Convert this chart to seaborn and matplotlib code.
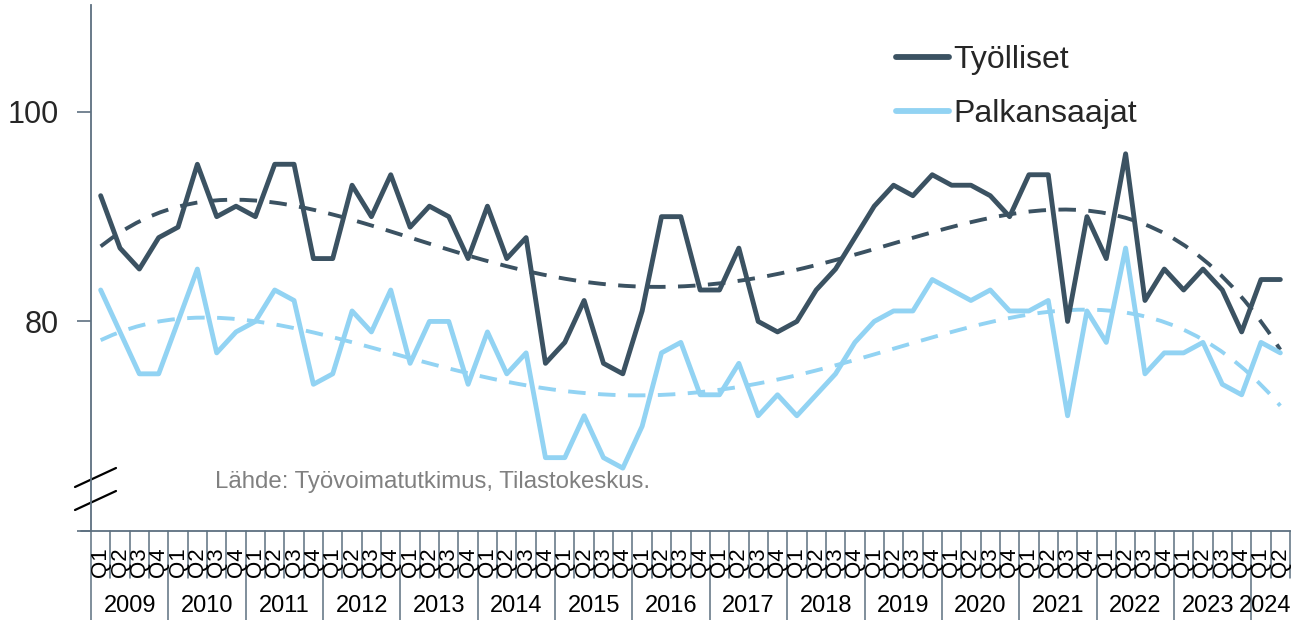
import numpy as np
import pandas as pd
import matplotlib
matplotlib.use("Agg")
import matplotlib.pyplot as plt
import matplotlib.transforms as mtrans
import seaborn as sns

# ---- data ----
years = [str(y) for y in range(2009, 2025)]
quarter_labels = ["Q1", "Q2", "Q3", "Q4"]
n_quarters_last_year = 2

tyolliset = [92, 87, 85, 88, 89, 95, 90, 91, 90, 95, 95, 86, 86, 93, 90, 94,
             89, 91, 90, 86, 91, 86, 88, 76, 78, 82, 76, 75, 81, 90, 90, 83,
             83, 87, 80, 79, 80, 83, 85, 88, 91, 93, 92, 94, 93, 93, 92, 90,
             94, 94, 80, 90, 86, 96, 82, 85, 83, 85, 83, 79, 84, 84]
palkansaajat = [83, 79, 75, 75, 80, 85, 77, 79, 80, 83, 82, 74, 75, 81, 79, 83,
                76, 80, 80, 74, 79, 75, 77, 67, 67, 71, 67, 66, 70, 77, 78, 73,
                73, 76, 71, 73, 71, 73, 75, 78, 80, 81, 81, 84, 83, 82, 83, 81,
                81, 82, 71, 81, 78, 87, 75, 77, 77, 78, 74, 73, 78, 77]
series_names = ["Työlliset", "Palkansaajat"]
y_ticks = [60, 80, 100]
y_ticklabels = ["", "80", "100"]
source_text = "Lähde: Työvoimatutkimus, Tilastokeskus."

# ---- build tidy frame ----
q_year, q_lab = [], []
for yi, y in enumerate(years):
    nq = 4 if yi < len(years) - 1 else n_quarters_last_year
    for q in range(nq):
        q_year.append(y)
        q_lab.append(quarter_labels[q])
n = len(q_lab)
idx = np.arange(n)
df = pd.DataFrame({
    "idx": np.concatenate([idx, idx]),
    "value": tyolliset + palkansaajat,
    "series": [series_names[0]] * n + [series_names[1]] * n,
})

dark = "#3b5262"
light = "#92d3f3"
axis_col = "#5d7080"

sns.set_theme(style="white")
plt.rcParams["font.family"] = ["Liberation Sans", "DejaVu Sans"]

W, H = 1291, 620
fig = plt.figure(figsize=(W / 100, H / 100), dpi=100)
ax = fig.add_axes([91 / W, 1 - 531 / H, (1290 - 91) / W, (531 - 5) / H])

# trend lines
for vals, col in [(tyolliset, dark), (palkansaajat, light)]:
    sns.regplot(x=idx, y=np.array(vals, dtype=float), order=4, ci=None,
                scatter=False, ax=ax, truncate=True,
                line_kws=dict(color=col, lw=2.8, dashes=(4.5, 3.2)))

sns.lineplot(data=df, x="idx", y="value", hue="series",
             palette=[dark, light], lw=3.5, ax=ax, legend=True)

ax.set_xlim(-0.5, n - 0.5)
ax.set_ylim(60, 110.2)
ax.set_yticks(y_ticks)
ax.set_yticklabels(y_ticklabels, fontsize=22)
ax.set_xticks([])
ax.set_xlabel("")
ax.set_ylabel("")
ax.tick_params(axis="y", direction="out", length=10, width=1.2,
               color=axis_col, pad=13, left=True)
for s in ["top", "right"]:
    ax.spines[s].set_visible(False)
for s in ["left", "bottom"]:
    ax.spines[s].set_color(axis_col)
    ax.spines[s].set_linewidth(1.3)

# legend
leg = ax.legend(loc="upper left", bbox_to_anchor=(896 / W, 1 - 45 / H),
                bbox_transform=fig.transFigure, frameon=False, fontsize=23,
                handlelength=1.65, handletextpad=0.15, labelspacing=0.75,
                borderpad=0, borderaxespad=0)
for h in leg.get_lines():
    h.set_linewidth(4.2)

# x-axis category labels (two levels)
bt = mtrans.blended_transform_factory(ax.transData, fig.transFigure)
y_axis_fig = 1 - 531 / H
y_q_bottom = 1 - 578 / H
for i in range(n + 1):
    x = i - 0.5
    is_year_edge = (i % 4 == 0)
    y_end = 0.0 if (is_year_edge and i < n) else y_q_bottom
    ax.plot([x, x], [y_axis_fig, y_end], transform=bt, color=axis_col,
            lw=1.1, clip_on=False)
for i in range(n):
    ax.text(i, 1 - 562 / H, q_lab[i], transform=bt, rotation=90,
            ha="center", va="center", fontsize=16, color="black")
for yi, y in enumerate(years):
    members = [i for i in range(n) if q_year[i] == y]
    if yi == len(years) - 1:
        ax.text(1291 / W, 1 - 606 / H, y, transform=fig.transFigure,
                ha="right", va="center", fontsize=17, color="black")
    else:
        shift = -5 if yi == len(years) - 2 else 0
        ax.annotate(y, xy=(np.mean(members), 1 - 606 / H), xycoords=bt,
                    xytext=(shift, 0), textcoords="offset pixels",
                    ha="center", va="center", fontsize=17, color="black")

# extend x-axis line left like a tick
ax.plot([81 / W, 91 / W], [y_axis_fig, y_axis_fig], transform=fig.transFigure,
        color=axis_col, lw=1.3, clip_on=False)

# axis break marks
for y0 in (487, 510):
    ax.plot([75 / W, 116 / W], [1 - y0 / H, 1 - (y0 - 19) / H],
            transform=fig.transFigure, color="black", lw=1.6, clip_on=False)

# source
fig.text(215 / W, 1 - 482 / H, source_text, fontsize=17.3, color="#808080",
         ha="left", va="center")

fig.savefig("out.png", dpi=100)
